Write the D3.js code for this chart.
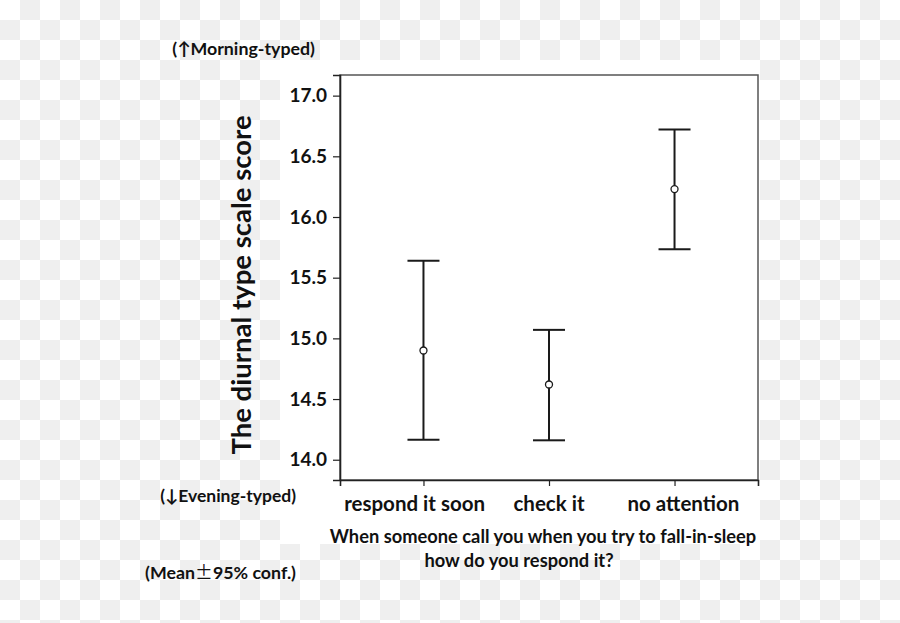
<!DOCTYPE html>
<html>
<head>
<meta charset="utf-8">
<script src="https://cdn.jsdelivr.net/npm/d3@7"></script>
<style>
  html, body { margin: 0; padding: 0; background: #fff; }
  svg { display: block; }
  text { font-family: Lato, "Open Sans", sans-serif; font-weight: bold; fill: #111; }
</style>
</head>
<body>
<svg id="chart" width="900" height="623"></svg>
<script>
// responses to "When someone call you when you try to fall-in-sleep"
const categories = ["respond it soon", "check it", "no attention"];
const means = [14.90, 14.62, 16.23];
const lower95 = [14.165, 14.16, 15.735];
const upper95 = [15.64, 15.07, 16.72];
const yTicks = [14.0, 14.5, 15.0, 15.5, 16.0, 16.5, 17.0];

const W = 900, H = 623;
const plot = { left: 340, top: 75, right: 758, bottom: 480 };

const svg = d3.select("#chart");

// transparent-style checkerboard behind the figure
const defs = svg.append("defs");
const pat = defs.append("pattern")
  .attr("id", "checker")
  .attr("width", 40)
  .attr("height", 40)
  .attr("patternUnits", "userSpaceOnUse");
pat.append("rect").attr("width", 40).attr("height", 40).attr("fill", "#ffffff");
pat.append("rect").attr("x", 20).attr("y", 0).attr("width", 20).attr("height", 20).attr("fill", "#efefef");
pat.append("rect").attr("x", 0).attr("y", 20).attr("width", 20).attr("height", 20).attr("fill", "#efefef");

svg.append("rect").attr("width", W).attr("height", H).attr("fill", "url(#checker)");
svg.append("rect")
  .attr("x", 280).attr("y", 60)
  .attr("width", 480).attr("height", 484)
  .attr("fill", "#ffffff");

const y = d3.scaleLinear()
  .domain([13.833, 17.17])
  .range([plot.bottom, plot.top]);

const x = d3.scalePoint()
  .domain(categories)
  .range([plot.left, plot.right])
  .padding(0.665);

// labels sit a little wider apart than the ticks in the original
const xLabel = d3.scalePoint()
  .domain(categories)
  .range([plot.left, plot.right])
  .padding(0.555);

// plot frame
svg.append("rect")
  .attr("x", plot.left)
  .attr("y", plot.top)
  .attr("width", plot.right - plot.left)
  .attr("height", plot.bottom - plot.top)
  .attr("fill", "#fff")
  .attr("stroke", "#555")
  .attr("stroke-width", 1.5);

// y axis
const yAxis = svg.append("g")
  .attr("transform", `translate(${plot.left},0)`)
  .call(d3.axisLeft(y).tickValues(yTicks).tickFormat(d3.format(".1f")).tickSize(7).tickPadding(6));
yAxis.select(".domain").attr("stroke", "#222").attr("stroke-width", 1.6);
yAxis.selectAll(".tick line").attr("stroke", "#222").attr("stroke-width", 1.2);
yAxis.selectAll(".tick text")
  .attr("font-size", 19)
  .attr("font-family", "Lato, sans-serif")
  .attr("font-weight", "bold")
  .attr("fill", "#111");

// x axis
const xAxis = svg.append("g")
  .attr("transform", `translate(0,${plot.bottom})`)
  .call(d3.axisBottom(x).tickSize(6).tickFormat(""));
xAxis.select(".domain").attr("stroke", "#222").attr("stroke-width", 1.6);
xAxis.selectAll(".tick line").attr("stroke", "#222").attr("stroke-width", 1.2);

svg.append("g")
  .selectAll("text")
  .data(categories)
  .enter()
  .append("text")
  .attr("x", d => xLabel(d))
  .attr("y", 511)
  .attr("text-anchor", "middle")
  .attr("font-size", 20.5)
  .text(d => d);

// error bars
const bars = svg.append("g")
  .selectAll("g")
  .data(categories.map((c, i) => ({ cat: c, mean: means[i], lo: lower95[i], hi: upper95[i] })))
  .enter()
  .append("g")
  .attr("stroke", "#1a1a1a")
  .attr("fill", "none");

bars.append("line")
  .attr("x1", d => x(d.cat)).attr("x2", d => x(d.cat))
  .attr("y1", d => y(d.hi)).attr("y2", d => y(d.lo))
  .attr("stroke-width", 2);

bars.append("line")
  .attr("x1", d => x(d.cat) - 16).attr("x2", d => x(d.cat) + 16)
  .attr("y1", d => y(d.hi)).attr("y2", d => y(d.hi))
  .attr("stroke-width", 2);

bars.append("line")
  .attr("x1", d => x(d.cat) - 16).attr("x2", d => x(d.cat) + 16)
  .attr("y1", d => y(d.lo)).attr("y2", d => y(d.lo))
  .attr("stroke-width", 2);

bars.append("circle")
  .attr("cx", d => x(d.cat))
  .attr("cy", d => y(d.mean))
  .attr("r", 3.5)
  .attr("fill", "#fff")
  .attr("stroke-width", 1.3);

// titles
svg.append("text")
  .attr("transform", "translate(251,285) rotate(-90)")
  .attr("text-anchor", "middle")
  .attr("font-size", 27.5)
  .text("The diurnal type scale score");

svg.append("text")
  .attr("x", 543)
  .attr("y", 543)
  .attr("text-anchor", "middle")
  .attr("font-size", 18.3)
  .text("When someone call you when you try to fall-in-sleep");

svg.append("text")
  .attr("x", 519)
  .attr("y", 567)
  .attr("text-anchor", "middle")
  .attr("font-size", 18.3)
  .text("how do you respond it?");

svg.append("text")
  .attr("x", 315)
  .attr("y", 55)
  .attr("text-anchor", "end")
  .attr("font-size", 17.8)
  .text("(↑Morning-typed)");

svg.append("text")
  .attr("x", 296)
  .attr("y", 502)
  .attr("text-anchor", "end")
  .attr("font-size", 17.5)
  .text("(↓Evening-typed)");

const meanNote = svg.append("text")
  .attr("x", 296)
  .attr("y", 579)
  .attr("text-anchor", "end")
  .attr("font-size", 17.8);
meanNote.append("tspan").text("(Mean");
meanNote.append("tspan")
  .attr("font-family", "'Noto Sans CJK JP', sans-serif")
  .attr("font-weight", "normal")
  .text("±");
meanNote.append("tspan").text("95% conf.)");
</script>
</body>
</html>
